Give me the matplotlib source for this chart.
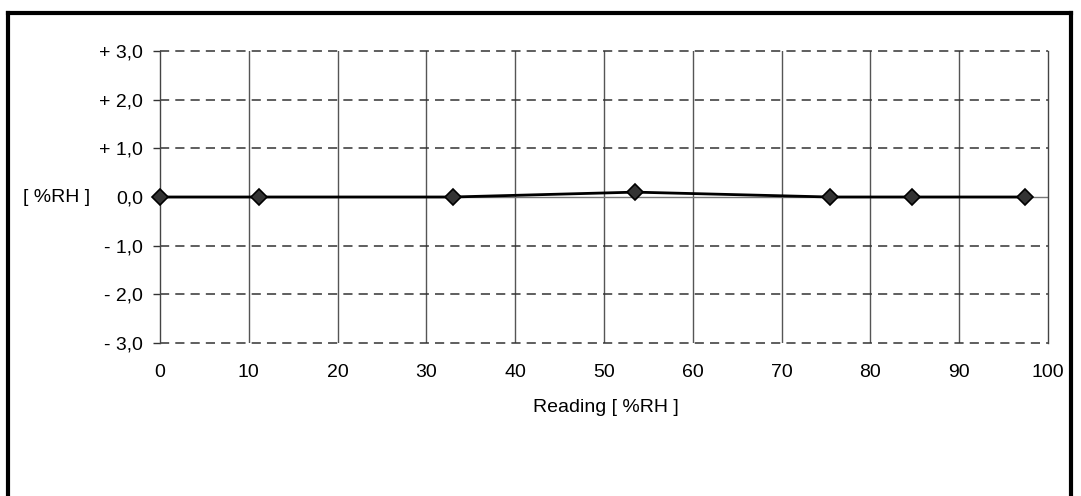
import matplotlib
matplotlib.use('Agg')
import matplotlib.pyplot as plt
from matplotlib.lines import Line2D

plt.rcParams['font.family'] = ['Liberation Sans', 'DejaVu Sans']

# readings and deviations
reading = [0.0, 11.2, 33.0, 53.5, 75.4, 84.7, 97.4]
deviation = [0.0, 0.0, 0.0, 0.1, 0.0, 0.0, 0.0]
yticks = [3, 2, 1, 0, -1, -2, -3]
ylabels = ['+ 3,0', '+ 2,0', '+ 1,0', '0,0', '- 1,0', '- 2,0', '- 3,0']
xticks = [0, 10, 20, 30, 40, 50, 60, 70, 80, 90, 100]

W, H = 1081, 496
fig = plt.figure(figsize=(W / 100, H / 100), dpi=100)
ax = fig.add_axes([160 / W, 1 - 343 / H, 888 / W, 292 / H])

ax.plot(reading, deviation, color='black', lw=2, marker='D', ms=8,
        mfc='#333333', mec='black', mew=1.2, zorder=5, clip_on=False)

ax.set_xlim(0, 100)
ax.set_ylim(-3, 3)
ax.set_xticks(xticks)
ax.set_yticks(yticks)
ax.set_yticklabels(ylabels)
ax.tick_params(axis='x', length=0, pad=15, labelsize=14)
ax.tick_params(axis='y', length=5, width=1, direction='out', pad=7,
               labelsize=14, color='#333333')

for x in xticks[1:-1]:
    ax.axvline(x, color='#555555', lw=1, zorder=1)
for y in yticks:
    if y != 0:
        ax.axhline(y, color='#333333', lw=1.1, ls=(0, (6, 4)), zorder=1, clip_on=False)
ax.axhline(0, color='#777777', lw=1, zorder=1)

for s in ['top', 'bottom']:
    ax.spines[s].set_visible(False)
for s in ['left', 'right']:
    ax.spines[s].set_color('#444444')
    ax.spines[s].set_linewidth(1)

fig.text(606 / W, 1 - 408 / H, 'Reading [ %RH ]', fontsize=14, ha='center', va='center')
fig.text(57 / W, 1 - 198 / H, '[ %RH ]', fontsize=14, ha='center', va='center')

# outer frame
fig.add_artist(Line2D([8 / W, 8 / W], [0, 1 - 13 / H], color='black', lw=3))
fig.add_artist(Line2D([1071 / W, 1071 / W], [0, 1 - 13 / H], color='black', lw=3))
fig.add_artist(Line2D([8 / W, 1071 / W], [1 - 13 / H, 1 - 13 / H], color='black', lw=3))

fig.savefig('out.png', dpi=100)
